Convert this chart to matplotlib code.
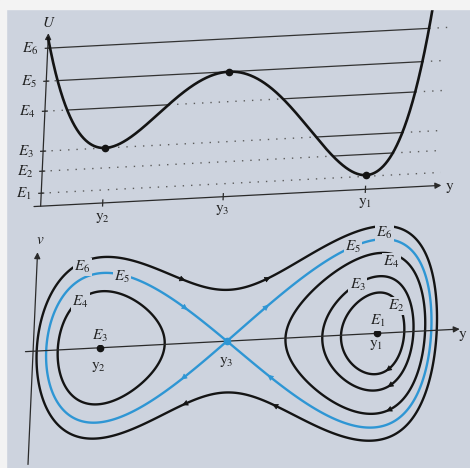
import numpy as np
import matplotlib
matplotlib.use("Agg")
import matplotlib.pyplot as plt
from matplotlib.transforms import Affine2D
from matplotlib.patches import Rectangle

plt.rcParams['mathtext.fontset'] = 'stix'
plt.rcParams['font.family'] = 'STIXGeneral'

# equilibria y2, y3, y1 and the energy levels E1..E6
y_crit = [-1.0, 0.0, 1.18]
energy = [1.3, 3.5, 5.5, 9.5, 12.5, 15.8]
energy_names = ['$E_1$', '$E_2$', '$E_3$', '$E_4$', '$E_5$', '$E_6$']
# extra stiffness of the right-hand wall of the potential
wall_gain = 0.1
wall_rate = 4.0

# direction arrows on the orbits: (level index, y, upper/lower branch)
arrow_spots = [(5, -0.37, 1), (5, 0.30, 1), (5, -0.31, -1), (5, 0.40, -1),
               (4, -0.34, 1), (4, 0.30, 1), (4, -0.33, -1), (4, 0.35, -1),
               (1, 1.28, -1), (2, 1.30, -1), (3, 1.30, -1)]

paper = '#cdd3de'
ink = '#141414'
blue = '#2e96d4'

y2, y3, y1 = y_crit
E1, E2, E3, E4, E5, E6 = energy


def dU_shape(y):
    return (y - y2) * (y - y3) * (y - y1) * (1 + wall_gain * np.exp(wall_rate * (y - y1)))


# potential U(y): integrate U' and fix scale so that U(y2)=E3, U(y3)=E5
yy = np.linspace(-1.9, 1.95, 1541)
d = dU_shape(yy)
shape = np.concatenate([[0.0], np.cumsum(0.5 * (d[1:] + d[:-1]) * np.diff(yy))])
s2 = np.interp(y2, yy, shape)
s3 = np.interp(y3, yy, shape)
k = (E5 - E3) / (s3 - s2)
U = E5 + k * (shape - s3)
U_y1 = np.interp(y1, yy, U)

fig = plt.figure(figsize=(4.7, 4.68), dpi=100)
fig.patch.set_facecolor(paper)
fig.patches.append(Rectangle((0, 1 - 9 / 468), 1, 9 / 468, transform=fig.transFigure,
                             color='#f3f3f3', zorder=0))
fig.patches.append(Rectangle((0, 0), 6 / 470, 1, transform=fig.transFigure,
                             color='#f3f3f3', zorder=0))

# the printed page is photographed slightly askew
a, b = 0.045, 0.052
skew = Affine2D(np.array([[1, a, -a * 234], [b, 1, -b * 235], [0, 0, 1]]))

axis_kw = dict(arrowstyle='-|>', color='#2a2a2a', lw=0.9, mutation_scale=9,
               shrinkA=0, shrinkB=0)
lab_kw = dict(fontsize=11, color='#222222', ha='center', va='center')

# ---------- potential energy U(y) ----------
ax_u = fig.add_axes([0, 243 / 468, 1, 225 / 468])
ax_u.set_xlim(-1.838, 2.062)
ax_u.set_ylim(-2.9, 19.6)
ax_u.axis('off')
tu = ax_u.transData + skew

y_left = -1.515
ax_u.annotate('', xy=(1.81, 0), xytext=(-1.57, 0), xycoords=tu, textcoords=tu,
              arrowprops=axis_kw)
ax_u.annotate('', xy=(y_left, 17.3), xytext=(y_left, 0), xycoords=tu, textcoords=tu,
              arrowprops=axis_kw)

span = (yy >= y_left) & (yy <= 1.8)
for E, name in zip(energy, energy_names):
    inside = U < E
    ax_u.plot(yy[span], np.where(inside, E, np.nan)[span], color='#333333', lw=0.9,
              transform=tu, clip_on=False)
    ax_u.plot(yy[span], np.where(~inside, E, np.nan)[span], color='#5c5c5c', lw=1.0,
              ls=(0, (1, 5)), transform=tu, clip_on=False)
    ax_u.plot([y_left - 0.02, y_left + 0.02], [E, E], color='#2a2a2a', lw=0.9,
              transform=tu, clip_on=False)
    ax_u.text(-1.66, E, name, transform=tu, **lab_kw)

curve = (yy >= y_left) & (U <= 21)
ax_u.plot(yy[curve], U[curve], color=ink, lw=1.9, transform=tu, clip_on=False, zorder=4)
ax_u.plot(y_crit, [E3, E5, U_y1], 'o', color=ink, ms=4.5, transform=tu, clip_on=False,
          zorder=5)
for yc in y_crit:
    ax_u.plot([yc, yc], [-0.3, 0.3], color='#2a2a2a', lw=0.9, transform=tu, clip_on=False)

ax_u.text(y2, -1.52, r'$\mathrm{y}_2$', transform=tu, **lab_kw)
ax_u.text(y3, -1.33, r'$\mathrm{y}_3$', transform=tu, **lab_kw)
ax_u.text(y1, -1.38, r'$\mathrm{y}_1$', transform=tu, **lab_kw)
ax_u.text(-1.519, 18.3, '$U$', transform=tu, **lab_kw)
ax_u.text(1.88, -0.3, r'$\mathrm{y}$', transform=tu, **lab_kw)

# ---------- phase plane (y, v) ----------
ax_p = fig.add_axes([0, 0, 1, 243 / 468])
ax_p.set_xlim(-1.822, 1.873)
ax_p.set_ylim(-6.35, 5.8)
ax_p.axis('off')
tp = ax_p.transData + skew

ax_p.annotate('', xy=(1.83, 0), xytext=(-1.584, 0), xycoords=tp, textcoords=tp,
              arrowprops=axis_kw)
ax_p.annotate('', xy=(-1.524, 4.95), xytext=(-1.524, -5.66), xycoords=tp, textcoords=tp,
              arrowprops=axis_kw)

vv = np.linspace(-6.4, 6.0, 700)
Y, V = np.meshgrid(yy, vv)
H = V ** 2 / 2 + U[None, :]
H_right = np.where(Y > y3, H, np.nan)

ax_p.contour(yy, vv, H, levels=[E4, E6], colors=ink, linewidths=1.7, transform=tp)
ax_p.contour(yy, vv, H_right, levels=[E2, E3], colors=ink, linewidths=1.7, transform=tp)
ax_p.contour(yy, vv, H, levels=[E5], colors=blue, linewidths=1.7, transform=tp)

ax_p.plot([y2, y1], [0, 0], 'o', color=ink, ms=4.5, transform=tp, zorder=5)
ax_p.plot([y3], [0], 'o', color=blue, ms=4.5, transform=tp, zorder=5)

for i, yq, side in arrow_spots:
    E = energy[i]
    vq = side * np.sqrt(2 * (E - np.interp(yq, yy, U)))
    dq = k * dU_shape(yq)
    p0 = tp.transform((yq, vq))
    p1 = tp.transform((yq + vq * 1e-3, vq - dq * 1e-3))
    eps = 1e-3 * 3.0 / np.hypot(*(p1 - p0))
    ax_p.annotate('', xy=(yq + vq * eps, vq - dq * eps),
                  xytext=(yq - vq * eps, vq + dq * eps), xycoords=tp, textcoords=tp,
                  arrowprops=dict(arrowstyle='-|>', color=blue if i == 4 else ink,
                                  lw=0.5, mutation_scale=9, shrinkA=0, shrinkB=0),
                  zorder=6)

gap = dict(boxstyle='square,pad=0.08', fc=paper, ec='none')
orbit_labels = [('$E_6$', -1.167, 4.1), ('$E_5$', -0.848, 3.5), ('$E_4$', -1.169, 2.36),
                ('$E_3$', -1.0, 0.6), ('$E_6$', 1.204, 5.0), ('$E_5$', 0.958, 4.4),
                ('$E_4$', 1.27, 3.54), ('$E_3$', 1.01, 2.48), ('$E_2$', 1.324, 1.33),
                ('$E_1$', 1.18, 0.6)]
for name, ly, lv in orbit_labels:
    ax_p.text(ly, lv, name, transform=tp, bbox=gap, zorder=7, **lab_kw)

ax_p.text(y2, -0.95, r'$\mathrm{y}_2$', transform=tp, **lab_kw)
ax_p.text(y3, -1.03, r'$\mathrm{y}_3$', transform=tp, **lab_kw)
ax_p.text(y1, -0.6, r'$\mathrm{y}_1$', transform=tp, **lab_kw)
ax_p.text(-1.505, 5.55, '$v$', transform=tp, **lab_kw)
ax_p.text(1.855, -0.35, r'$\mathrm{y}$', transform=tp, **lab_kw)

fig.savefig('out.png', dpi=100, facecolor=paper)
